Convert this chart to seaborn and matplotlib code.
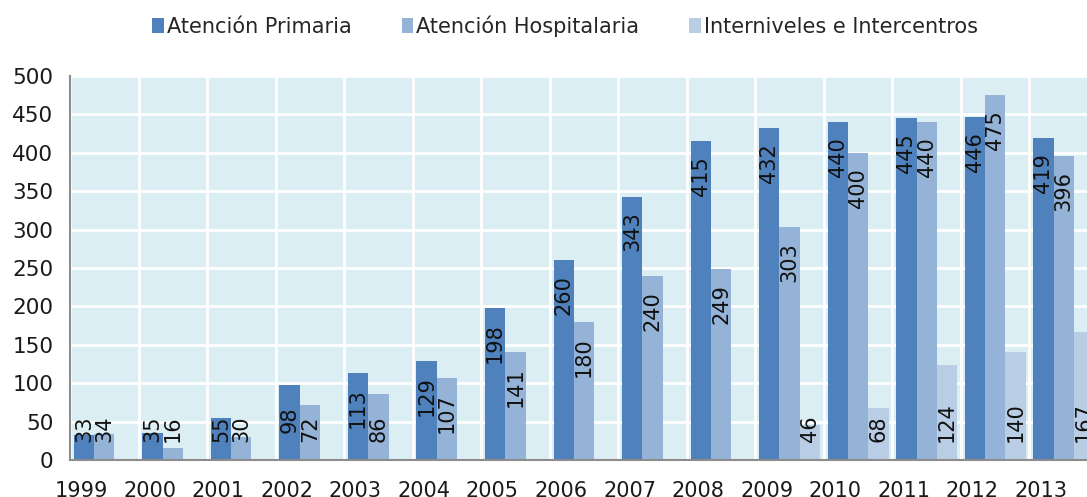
import matplotlib
matplotlib.use("Agg")
import matplotlib.pyplot as plt
import matplotlib.transforms as mtransforms
from matplotlib.patches import Patch
from matplotlib.ticker import MultipleLocator
import numpy as np
import pandas as pd
import seaborn as sns

years = ["1999", "2000", "2001", "2002", "2003", "2004", "2005", "2006",
         "2007", "2008", "2009", "2010", "2011", "2012", "2013"]
primaria = [33, 35, 55, 98, 113, 129, 198, 260, 343, 415, 432, 440, 445, 446, 419]
hospitalaria = [34, 16, 30, 72, 86, 107, 141, 180, 240, 249, 303, 400, 440, 475, 396]
interniveles = [0, 0, 0, 0, 0, 0, 0, 0, 0, 0, 46, 68, 124, 140, 167]
series_names = ["Atención Primaria", "Atención Hospitalaria", "Interniveles e Intercentros"]
colors = ["#4F81BD", "#95B3D7", "#B9CDE5"]

df = pd.DataFrame({
    "year": years * 3,
    "value": primaria + hospitalaria + interniveles,
    "serie": [s for s in series_names for _ in years],
})

sns.set_style("white")
plt.rcParams["font.family"] = ["DejaVu Sans"]

fig = plt.figure(figsize=(10.87, 4.97), dpi=100)
# plot area runs past the right edge of the picture, as in the reference
ax = fig.add_axes([70 / 1087, 37 / 497, 1028 / 1087, 384 / 497])
ax.set_facecolor("#DBEEF4")

sns.barplot(data=df, x="year", y="value", hue="serie", hue_order=series_names,
            palette=colors, width=0.89, saturation=1, ax=ax, legend=False,
            linewidth=0, edgecolor="none", zorder=2)

ax.set_xlim(-0.5, len(years) - 0.5)
ax.set_ylim(0, 500)
ax.yaxis.set_major_locator(MultipleLocator(50))
ax.set_xlabel("")
ax.set_ylabel("")

# grid: white lines at value steps and at category boundaries
ax.set_xticks(np.arange(len(years) + 1) - 0.5, minor=True)
ax.grid(True, axis="y", which="major", color="white", linewidth=2, zorder=1)
ax.grid(True, axis="x", which="minor", color="white", linewidth=2, zorder=1)
ax.grid(False, axis="x", which="major")
ax.set_axisbelow(True)

for side in ["top", "right"]:
    ax.spines[side].set_visible(False)
for side in ["left", "bottom"]:
    ax.spines[side].set_color("#8C8C8C")
    ax.spines[side].set_linewidth(1.5)

ax.tick_params(axis="y", direction="out", length=6, width=1.2, color="#8C8C8C",
               labelsize=15.5, labelcolor="#1A1A1A", pad=6)
ax.tick_params(axis="x", which="major", length=0, labelsize=15,
               labelcolor="#1A1A1A", pad=15)
ax.tick_params(axis="x", which="minor", direction="in", length=5, width=1.2,
               color="#8C8C8C")

shift = mtransforms.ScaledTranslation(-23 / 100, 0, fig.dpi_scale_trans)
for lab in ax.get_xticklabels():
    lab.set_transform(lab.get_transform() + shift)

# data labels
px_per_unit = 384 / 500
base_min = 18 / px_per_unit
for i, cont in enumerate(ax.containers):
    for bar in cont:
        v = bar.get_height()
        if v <= 0:
            continue
        txt = f"{v:.0f}"
        half = len(txt) * 6.7 / px_per_unit
        if i < 2:
            center = v - 35 / px_per_unit
            if center - half < base_min:
                center = base_min + half
        else:
            center = base_min + half
        ax.text(bar.get_x() + bar.get_width() / 2, center, txt, rotation=90,
                ha="center", va="center", fontsize=15, color="#111111", zorder=3)

handles = [Patch(facecolor=c, edgecolor="none") for c in colors]
fig.legend(handles, series_names, loc="center", bbox_to_anchor=(565 / 1087, 1 - 26 / 497),
           ncol=3, frameon=False, fontsize=15, handlelength=0.55, handleheight=0.7,
           handletextpad=0.15, columnspacing=2.4)

fig.savefig("out.png", dpi=100)
